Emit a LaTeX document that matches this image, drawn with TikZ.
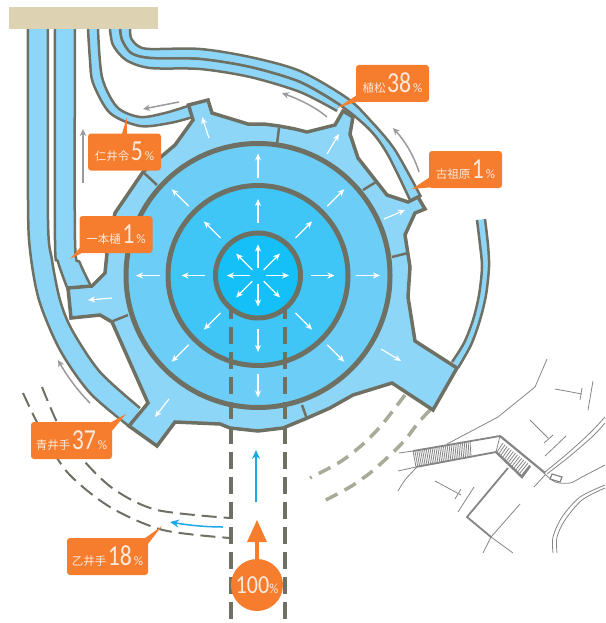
\documentclass[tikz,border=0pt]{standalone}
\usepackage{fontspec}
\usetikzlibrary{arrows.meta,calc}
\newfontfamily\cjf{Noto Sans CJK JP}
\newfontfamily\numf{Carlito}
\definecolor{edgec}{HTML}{6F7064}
\definecolor{lb}{HTML}{8DD6F8}
\definecolor{ring3}{HTML}{6CCEF6}
\definecolor{ring2}{HTML}{40C6F6}
\definecolor{ring1}{HTML}{14C0F7}
\definecolor{org}{HTML}{F67D2E}
\definecolor{beige}{HTML}{DDD3B3}
\definecolor{arrg}{HTML}{9A9A9F}
\definecolor{arrb}{HTML}{1AA9E6}
\definecolor{olive}{HTML}{A9AB98}
\definecolor{mapc}{HTML}{858585}
\definecolor{lblt}{HTML}{FCE9DC}
\tikzset{
  edge/.style={draw=edgec,line width=2.5pt,line join=round},
  whitearr/.style={white,line width=1.2pt,-{Stealth[length=7pt,width=6pt]}},
  greyarr/.style={arrg,line width=1.5pt,-{Stealth[length=7pt,width=6.5pt]}},
  bluearr/.style={arrb,line width=1.5pt,-{Stealth[length=9pt,width=8pt]}},
  lbl/.style={fill=org,rounded corners=3pt,minimum width=73pt,minimum height=37pt,inner sep=0pt,text=lblt},
  lbllong/.style={lbl,minimum width=81pt},
  sepline/.style={edgec,line width=2.5pt},
  thindash/.style={edgec,line width=2pt,dash pattern=on 15pt off 7pt},
  olivedash/.style={olive,line width=3.5pt,dash pattern=on 13pt off 8pt},
  viewdash/.style={edgec,line width=3.5pt,dash pattern=on 17pt off 8pt},
  mapl/.style={mapc,line width=.8pt},
  mapt/.style={mapc,line width=1.8pt},
}
\newcommand{\bandfill}[2]{%
  \fill[lb] plot[smooth] coordinates {#1} -- plot[smooth] coordinates {#2} -- cycle;
  \draw[edge] plot[smooth] coordinates {#1};
  \draw[edge] plot[smooth] coordinates {#2};}
\newcommand{\lab}[2]{{\cjf\fontsize{11.5}{12}\selectfont #1}\hspace{1.5pt}\scalebox{0.82}[1]{\numf\fontsize{29}{29}\selectfont #2}\hspace{2pt}{\numf\fontsize{13}{13}\selectfont\%}}
\begin{document}
\begin{tikzpicture}[x=1pt,y=-1pt]
\useasboundingbox (0,0) rectangle (605,623);
% map
\draw[mapl] (547,359) -- (535,387) -- (498,417) -- (447,444);
\draw[mapl] (555,389) -- (582,394);
\draw[mapl] (582,388) -- (580,400);
\draw[mapl] (593,381) -- (588,410);
\draw[mapl] (530,420) -- (548,438);
\draw[mapl] (553,435) -- (544,443);
\draw[mapl] (566,436) -- (545,456);
\draw[mapl] (399,453) -- (413,451);
\draw[mapl] (398,471) -- (416,467);
\draw[mapl] plot[smooth] coordinates {(416,468) (405,480) (398,491)};
\draw[mapt] (413,451) -- (500,436);
\draw[mapt] (416,467) -- (496,452);
\foreach \i in {0,...,30}
  \draw[mapl] ({413+\i*57/30},{451-\i*9.5/30}) -- ({416+\i*55/30},{467-\i*10.5/30});
\draw[mapt,line width=2.2pt] (500,436) -- (545,473);
\draw[mapt,line width=2.4pt] (496,452) -- (522,477) -- (530,466);
\draw[mapl] (500,436) -- (496,452);
\foreach \i in {0,...,13}
  \draw[mapl] ({503+\i*27/13},{443+\i*22/13}) -- ({497+\i*23/13},{452+\i*25/13});
\draw[mapt] (508,468) -- (467,517) -- (491,537);
\draw[mapl] (491,537) -- (520,504);
\draw[mapl] (491,537) -- (483,553);
\draw[mapl] (491,537) -- (513,553);
\draw[mapl] (435,481) -- (461,495);
\draw[mapl] (461,489) -- (455,499);
\draw[mapl] (474,487) -- (458,512);
\draw[mapl] plot[smooth] coordinates {(605,417) (590,433) (568,453) (545,472)};
\draw[mapl] plot[smooth] coordinates {(605,423) (593,436) (570,456) (547,474)};
\draw[mapl] (545,475) -- (534,487);
\draw[mapl] plot[smooth] coordinates {(544,473) (555,482) (570,483) (582,477) (605,465)};
\draw[mapl,line width=1.2pt] (552,474) -- (562,477) -- (560,482) -- (550,479) -- cycle;
\draw[mapl] plot[smooth] coordinates {(605,485) (580,497) (562,517) (553,537) (553,553)};
\draw[mapl] plot[smooth] coordinates {(605,488) (582,500) (565,520) (557,537) (557,553)};
% dashed courses
\draw[olivedash] plot[smooth] coordinates {(405,395) (395,408) (380,427) (362,445) (340,462) (310,478)};
\draw[olivedash] plot[smooth] coordinates {(430,410) (418,423) (405,440) (388,457) (370,473) (350,487) (322,502)};
\draw[thindash] plot[smooth] coordinates {(23,393) (42,432) (68,473) (110,507) (163,530) (230,538)};
\draw[thindash] plot[smooth] coordinates {(42,387) (60,428) (85,462) (115,490) (157,510) (230,518)};
% channels
\bandfill{(28,29) (28,200) (30,250) (39,300) (60,350) (90,393) (130,427)}{(140,408) (100,372) (72,330) (60,300) (52,260) (48,220) (48,29)}
\bandfill{(55,29) (55,240) (58,262) (68,290)}{(92,288) (80,263) (75,240) (75,29)}
\bandfill{(88,29) (90,60) (93,83) (110,113) (140,126) (170,123) (193,117)}{(188,106) (165,113) (140,117) (117,107) (102,77) (98,29)}
\bandfill{(130,29) (131,38) (138,46) (150,49) (200,49) (250,57) (300,71) (347,98) (370,120) (395,150) (421,197)}{(410,200) (388,155) (370,130) (340,105) (300,82) (250,67) (200,59) (150,58) (131,53) (122,40) (120,29)}
\bandfill{(120,29) (122,40) (131,53) (150,58) (200,59) (250,67) (300,82) (340,105)}{(337,111) (300,92) (250,77) (200,69) (150,68) (126,60) (113,45) (110,29)}
\fill[lb] plot[smooth] coordinates {(477,220) (480,245) (482,267) (479,295) (473,320) (464,343) (452,362)} -- plot[smooth] coordinates {(458,368) (471,345) (480,320) (486,295) (489,267) (488,245) (485,219)} -- cycle;
\draw[edge] plot[smooth] coordinates {(477,220) (480,245) (482,267) (479,295) (473,320) (464,343) (452,362)};
\draw[edge] plot[smooth] coordinates {(458,368) (471,345) (480,320) (486,295) (489,267) (488,245) (485,219)};
\fill[beige] (9,7) rectangle (158,29);
% basin outline
\draw[fill=lb,draw=edgec,line width=3.5pt,line join=miter]
 (188.5,105) -- (208,100) -- (212,113) -- (248,124) -- (264,124) -- (279,126) -- (295,129) -- (307,132) -- (335,125) -- (343,111)
 -- (353,117) -- (350,134) -- (358,158) -- (387,195) -- (408,202) -- (418,197) -- (425,209) -- (415,213) -- (405,235) -- (410,267)
 -- (408,297) -- (415,341) -- (457,368) -- (433,410) -- (392,383) -- (353,395) -- (330,408) -- (305,419) -- (283,428) -- (258,431)
 -- (230,428) -- (220,424) -- (175,422) -- (157,446) -- (129,426) -- (148,403) -- (112,322) -- (100,315) -- (71,318) -- (68,288)
 -- (92,286) -- (105,273) -- (107,253) -- (115,213) -- (143,172) -- (175,145) -- (193,120) -- cycle;
\draw[sepline] (279,128) -- (277,144);
\draw[sepline] (143,172) -- (157,185);
\draw[sepline] (363,190) -- (376,182);
\draw[sepline] (392,257) -- (408,253);
\draw[sepline] (113,321) -- (128,315);
\draw[sepline] (302,405) -- (307,419);
% rings
\draw[fill=ring3,draw=edgec,line width=5pt] (258,275.5) circle (132);
\draw[fill=ring2,draw=edgec,line width=5pt] (258,275.5) circle (90);
\draw[viewdash] (231,302) -- (231,623);
\draw[viewdash] (285,302) -- (285,623);
\draw[fill=ring1,draw=edgec,line width=5pt] (258,275.5) circle (42.5);
% radial arrows
\foreach \a in {0,45,...,315} {
  \draw[whitearr] ($(258,275.5)+({8*cos(\a)},{8*sin(\a)})$) -- ($(258,275.5)+({31*cos(\a)},{31*sin(\a)})$);
  \draw[whitearr] ($(258,275.5)+({53*cos(\a)},{53*sin(\a)})$) -- ($(258,275.5)+({76.5*cos(\a)},{76.5*sin(\a)})$);
  \draw[whitearr] ($(258,275.5)+({98*cos(\a)},{98*sin(\a)})$) -- ($(258,275.5)+({122*cos(\a)},{122*sin(\a)})$);
}
\draw[whitearr] (209,138) -- (202,117);
\draw[whitearr] (327,154) -- (339,134);
\draw[whitearr] (384,219) -- (405,210);
\draw[whitearr] (381,349) -- (401,361);
\draw[whitearr] (169,399) -- (155,417);
\draw[whitearr] (112,298) -- (88,300);
% grey flow arrows
\draw[greyarr] (83,183) -- (83,129);
\draw[greyarr] (179,102) -- (143,109);
\draw[greyarr] (327,117) .. controls (314,106) and (298,99) .. (282,93);
\draw[greyarr] (419,172) .. controls (414,156) and (405,141) .. (393,128);
\draw[greyarr] (90,403) .. controls (78,391) and (67,376) .. (58,360);
% labels
\coordinate (p1) at (127,117);
\coordinate (p2) at (70,259);
\coordinate (p3) at (337,108);
\coordinate (p4) at (412,189);
\coordinate (p5) at (126,414);
\coordinate (p6) at (162,526);
\node[lbl] (l1) at (124.5,152) {\lab{仁井令}{5}};
\node[lbl] (l2) at (116,234.5) {\lab{一本樋}{1}};
\node[lbl] (l3) at (392.5,83.5) {\lab{植松}{38}};
\node[lbl] (l4) at (465.5,169.5) {\lab{古祖原}{1}};
\node[lbllong] (l5) at (71.5,440.5) {\lab{青井手}{37}};
\node[lbllong] (l6) at (107.5,556.5) {\lab{乙井手}{18}};
\fill[org] (p1) -- ($(l1.north west)+(34,1)$) -- ($(l1.north west)+(39,1)$) -- cycle;
\fill[org] (p2) -- ($(l2.south west)+(1,-6)$) -- ($(l2.south west)+(4,-1)$) -- cycle;
\fill[org] (p3) -- ($(l3.south west)+(1,-7)$) -- ($(l3.south west)+(3,-1)$) -- cycle;
\fill[org] (p4) -- ($(l4.south west)+(1,-11)$) -- ($(l4.south west)+(3,-1)$) -- cycle;
\fill[org] (p5) -- ($(l5.north east)+(-2,1)$) -- ($(l5.north east)+(-1,10)$) -- cycle;
\fill[org] (p6) -- ($(l6.north east)+(-4,1)$) -- ($(l6.north east)+(-1,7)$) -- cycle;
% inflow
\coordinate (b1) at (256,502);
\coordinate (b2) at (256,450);
\coordinate (b3) at (223,527);
\coordinate (b4) at (170,522);
\draw[bluearr] (b1) -- (b2);
\draw[bluearr] (b3) .. controls (205,527) and (187,525) .. (b4);
\node[circle,fill=org,minimum size=52pt,inner sep=0pt,text=lblt] (c) at (257,585) {\scalebox{0.85}[1]{\numf\fontsize{26}{26}\selectfont 100}\scalebox{0.9}[1]{\numf\fontsize{14}{14}\selectfont\%}};
\coordinate (ot) at (257,520);
\draw[org,line width=4pt] (c.north) -- ($(ot)+(0,10)$);
\fill[org] (ot) -- (267,542) -- (247,542) -- cycle;
\end{tikzpicture}
\end{document}
